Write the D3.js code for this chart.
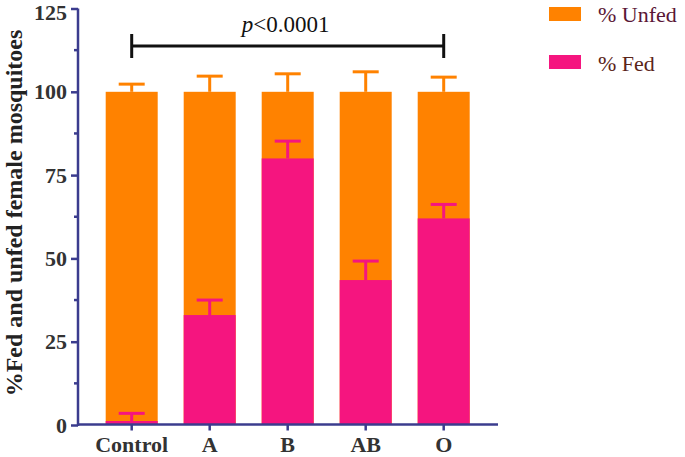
<!DOCTYPE html>
<html><head><meta charset="utf-8">
<script src="https://cdn.jsdelivr.net/npm/d3@7"></script>
<style>body{margin:0;background:#fff}svg{display:block}</style>
</head><body>
<svg id="c" width="685" height="457"></svg>
<script>
const categories = ["Control","A","B","AB","O"];
const fedValues = [1.2, 33, 80, 43.5, 62];
const fedErrTop = [3.5, 37.5, 85.2, 49.2, 66.2];
const unfedTotal = [100, 100, 100, 100, 100];
const unfedErrTop = [102.3, 104.7, 105.4, 106, 104.4];
const yTicks = [0, 25, 50, 75, 100, 125];
const yMinorTicks = [12.5, 37.5, 62.5, 87.5, 112.5];
const seriesNames = ["% Unfed", "% Fed"];
const pText = "<0.0001";

const ORANGE = "#FF8200", PINK = "#F5157F", AXIS = "#3B3C8E";
const svg = d3.select("#c");
const y = d3.scaleLinear().domain([0,125]).range([425, 8.5]);
const x = d3.scaleBand().domain(categories).range([79.7, 495.7]).paddingInner(1/3).paddingOuter(1/3);
const bw = x.bandwidth();
const SERIF = "Liberation Serif";

svg.append("g").selectAll("rect").data(categories).join("rect")
  .attr("x", d=>x(d)).attr("width", bw)
  .attr("y", (d,i)=>y(unfedTotal[i])).attr("height", (d,i)=>y(0)-y(unfedTotal[i]))
  .attr("fill", ORANGE);
const ue = svg.append("g").attr("stroke", ORANGE).attr("stroke-width", 3);
categories.forEach((d,i)=>{
  const cx = x(d)+bw/2;
  ue.append("line").attr("x1",cx).attr("x2",cx).attr("y1",y(unfedTotal[i])).attr("y2",y(unfedErrTop[i]));
  ue.append("line").attr("x1",cx-bw/4).attr("x2",cx+bw/4).attr("y1",y(unfedErrTop[i])).attr("y2",y(unfedErrTop[i]));
});
svg.append("g").selectAll("rect").data(categories).join("rect")
  .attr("x", d=>x(d)).attr("width", bw)
  .attr("y", (d,i)=>y(fedValues[i])).attr("height", (d,i)=>y(0)-y(fedValues[i]))
  .attr("fill", PINK);
const fe = svg.append("g").attr("stroke", PINK).attr("stroke-width", 3);
categories.forEach((d,i)=>{
  const cx = x(d)+bw/2;
  fe.append("line").attr("x1",cx).attr("x2",cx).attr("y1",y(fedValues[i])).attr("y2",y(fedErrTop[i]));
  fe.append("line").attr("x1",cx-bw/4).attr("x2",cx+bw/4).attr("y1",y(fedErrTop[i])).attr("y2",y(fedErrTop[i]));
});

// y axis
const ya = svg.append("g").attr("transform","translate(78,0)")
  .call(d3.axisLeft(y).tickValues(yTicks).tickSize(7).tickPadding(4).tickFormat(d3.format("d")));
ya.append("g").selectAll("line").data(yMinorTicks).join("line")
  .attr("x1",-4).attr("x2",0).attr("y1",d=>y(d)).attr("y2",d=>y(d));
ya.select(".domain").remove();
ya.append("line").attr("x1",0).attr("x2",0).attr("y1",y(0)+1).attr("y2",y(125));
ya.selectAll("line").attr("stroke",AXIS).attr("stroke-width",2.5);
ya.selectAll("text").style("font-family",SERIF).style("font-weight","bold").style("font-size","22px").attr("fill","#333");
ya.selectAll(".tick text").filter(d=>d===125).attr("dy","0.5em");

// x axis
const xa = svg.append("g").attr("transform","translate(0,424.5)")
  .call(d3.axisBottom(x).tickSize(6).tickPadding(6).tickSizeOuter(0));
xa.select(".domain").attr("stroke",AXIS).attr("stroke-width",2.5).attr("d","M77,0H498");
xa.selectAll("line").attr("stroke",AXIS).attr("stroke-width",2.5);
xa.selectAll("text").style("font-family",SERIF).style("font-weight","bold").style("font-size","22px").attr("fill","#333");

// y title
svg.append("text").attr("transform","translate(22,213) rotate(-90)").attr("text-anchor","middle")
  .style("font-family",SERIF).style("font-weight","bold").style("font-size","24px").attr("fill","#222")
  .text("%Fed and unfed female mosquitoes");

// significance bracket
const x1 = x("Control")+bw/2, x2 = x("O")+bw/2, by = 46;
const br = svg.append("g").attr("stroke","#111").attr("stroke-width",3);
br.append("line").attr("x1",x1).attr("x2",x2).attr("y1",by).attr("y2",by);
br.append("line").attr("x1",x1).attr("x2",x1).attr("y1",34).attr("y2",58);
br.append("line").attr("x1",x2).attr("x2",x2).attr("y1",34).attr("y2",58);
const pt = svg.append("text").attr("x",(x1+x2)/2 - 2).attr("y",32).attr("text-anchor","middle")
  .style("font-family",SERIF).style("font-size","23px").attr("fill","#111");
pt.append("tspan").style("font-style","italic").text("p");
pt.append("tspan").text(pText);

// legend
const lg = svg.append("g");
const legColors = [ORANGE, PINK], legText = ["#5a1636","#5a2418"];
seriesNames.forEach((s,i)=>{
  lg.append("rect").attr("x",549).attr("y",7+i*48).attr("width",32).attr("height",14).attr("fill",legColors[i]);
  lg.append("text").attr("x",598).attr("y",22+i*49)
    .style("font-family",SERIF).style("font-size","22px")
    .attr("fill",legText[i]).text(s);
});
</script>
</body></html>
